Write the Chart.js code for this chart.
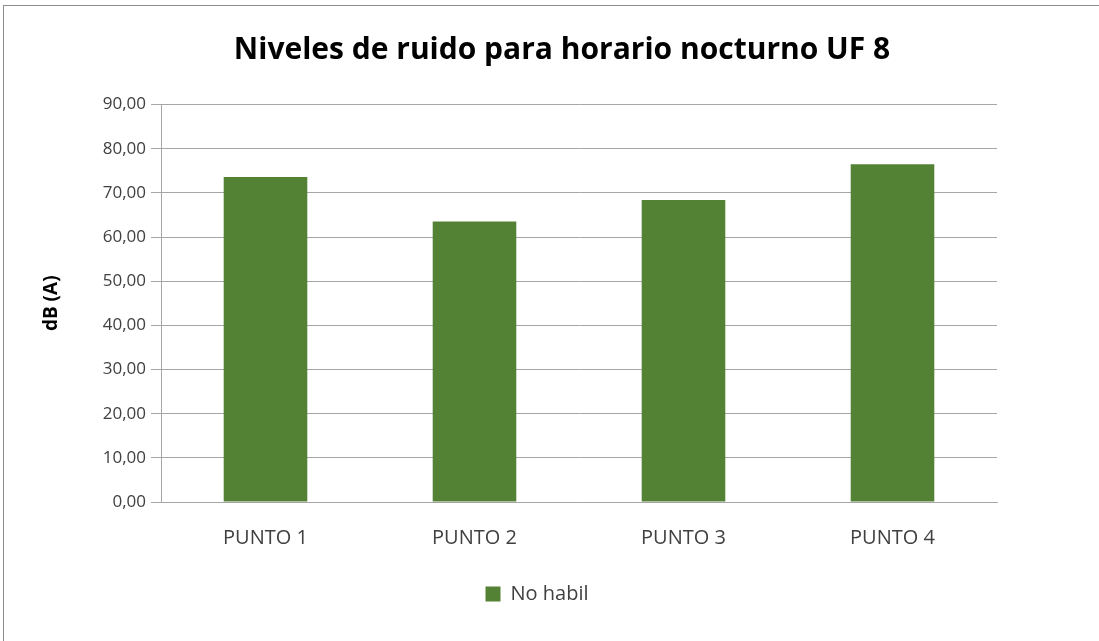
<!DOCTYPE html>
<html>
<head>
<meta charset="utf-8">
<script src="https://cdn.jsdelivr.net/npm/chart.js@4"></script>
<style>
  body { margin: 0; background: #fff; }
  #frame { position: absolute; left: 3px; top: 5px; width: 1200px; height: 700px;
           border-top: 1px solid #8c8c8c; border-left: 1px solid #8c8c8c; }
  #chart { position: absolute; left: 0; top: 0; }
</style>
</head>
<body>
<div id="frame"></div>
<canvas id="chart" width="1099" height="641"></canvas>
<script>
// data
const categories = ['PUNTO 1', 'PUNTO 2', 'PUNTO 3', 'PUNTO 4'];
const noHabil = [73.6, 63.5, 68.4, 76.5];
const seriesLabel = 'No habil';
const yMin = 0, yMax = 90, yStep = 10;

const FONT = 'Open Sans';
const GRID = '#a6a6a6';
const TEXT = '#404040';

// the title and legend sit a bit off the plot centre in the original
const offsetBoxes = {
  id: 'offsetBoxes',
  afterLayout(chart) {
    if (chart.titleBlock) chart.titleBlock.left += 127;
    if (chart.legend) chart.legend.left += 77;
  }
};

new Chart(document.getElementById('chart'), {
  type: 'bar',
  data: {
    labels: categories,
    datasets: [{
      label: seriesLabel,
      data: noHabil,
      backgroundColor: '#548235',
      categoryPercentage: 1,
      barPercentage: 0.4
    }]
  },
  plugins: [offsetBoxes],
  options: {
    responsive: false,
    devicePixelRatio: 1,
    animation: false,
    layout: { padding: { left: 0, right: 102, top: 0, bottom: 27 } },
    plugins: {
      title: {
        display: true,
        text: 'Niveles de ruido para horario nocturno UF 8',
        color: '#000',
        font: { family: FONT, size: 30, weight: 'bold' },
        padding: { top: 32, bottom: 36.5 }
      },
      legend: {
        position: 'bottom',
        labels: {
          boxWidth: 15, boxHeight: 15,
          color: TEXT,
          font: { family: FONT, size: 20 }
        }
      },
      tooltip: { enabled: false }
    },
    scales: {
      x: {
        grid: { display: false, drawTicks: false },
        border: { display: true, color: GRID },
        ticks: { color: TEXT, font: { family: FONT, size: 20 }, padding: 24 },
        afterFit: s => { s.height = 72; }
      },
      y: {
        min: yMin, max: yMax,
        ticks: {
          stepSize: yStep,
          color: TEXT,
          font: { family: FONT, size: 17 },
          padding: 5,
          callback: v => v.toFixed(2).replace('.', ',')
        },
        grid: { color: GRID, tickLength: 10 },
        border: { display: true, color: GRID },
        title: {
          display: true,
          text: 'dB (A)',
          color: '#000',
          font: { family: FONT, size: 19, weight: 'bold' },
          padding: { top: 40, bottom: 0 }
        },
        afterFit: s => { s.width = 161; }
      }
    }
  }
});
</script>
</body>
</html>
